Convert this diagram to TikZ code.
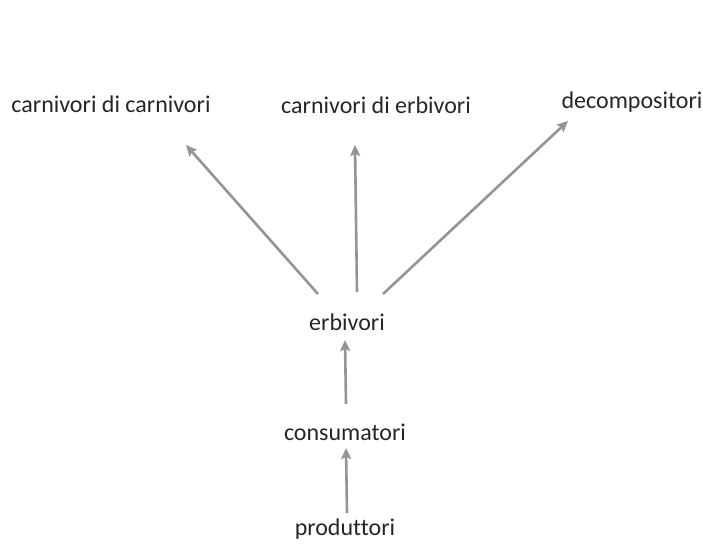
\documentclass[tikz,border=0pt]{standalone}
\usepackage{fontspec}
\setmainfont[Ligatures=NoCommon]{Carlito}
\usetikzlibrary{arrows.meta}
\begin{document}
\begin{tikzpicture}[x=1pt,y=1pt,
  lbl/.style={inner sep=0pt, font=\fontsize{24}{26}\selectfont, text=black!85},
  arr/.style={draw=black!42, line width=2.6pt, -{Stealth[length=11pt,width=10pt,inset=2pt]}}]
\useasboundingbox (0,0) rectangle (703,-545);
\node[lbl] (cc) at (111,-104) {carnivori di carnivori};
\node[lbl] (ce) at (376,-105) {carnivori di erbivori};
\node[lbl] (dc) at (632,-102) {decompositori};
\node[lbl] (er) at (347,-322) {erbivori};
\node[lbl] (co) at (345,-432) {consumatori};
\node[lbl] (pr) at (345,-529) {produttori};
\coordinate (e1) at (318,-294);
\coordinate (t1) at (186,-145);
\coordinate (e2) at (357,-292);
\coordinate (t2) at (355,-145);
\coordinate (e3) at (383,-294);
\coordinate (t3) at (568,-121);
\coordinate (c1) at (346,-404);
\coordinate (t4) at (345,-340);
\coordinate (p1) at (347,-513);
\coordinate (t5) at (346,-448);
\draw[arr] (e1) -- (t1);
\draw[arr] (e2) -- (t2);
\draw[arr] (e3) -- (t3);
\draw[arr] (c1) -- (t4);
\draw[arr] (p1) -- (t5);
\end{tikzpicture}
\end{document}
